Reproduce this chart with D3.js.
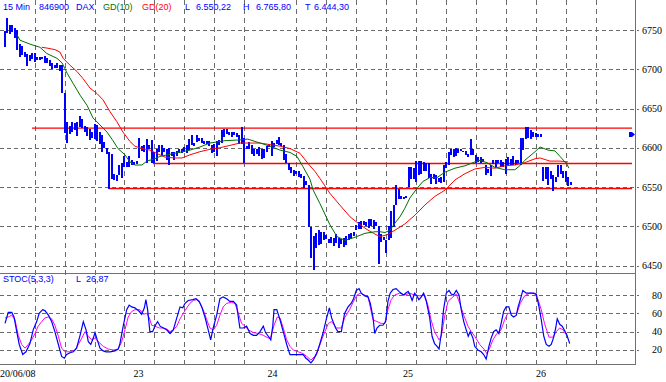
<!DOCTYPE html>
<html>
<head>
<meta charset="utf-8">
<script src="https://cdnjs.cloudflare.com/ajax/libs/d3/7.8.5/d3.min.js"></script>
<style>
  body { margin: 0; background: #fff; }
  svg { display: block; }
  .sans { font-family: "Liberation Sans", Arial, sans-serif; font-size: 9px; }
  .serif { font-family: "Liberation Serif", "Times New Roman", serif; font-size: 10px; fill: #000; }
</style>
</head>
<body>
<script>
// ---- data (15 min bars, DAX) ----
var barHigh = [6749,6765,6757,6757,6752,6750,6732,6730,6722,6720,6718,6721,6721,6716,6715,6716,6717,6714,6712,6708,
  6706,6708,6705,6705,6670,6633,6628,6633,6632,6633,6640,6636,6628,6626,6624,6620,6630,6629,6620,6616,
  6607,6600,6595,6592,6566,6565,6578,6580,6590,6582,6589,6584,6582,6583,6612,6602,6603,6611,6603,6610,
  6595,6598,6603,6604,6600,6599,6600,6595,6594,6596,6598,6599,6601,6604,6611,6616,6606,6616,6612,6612,
  6608,6609,6608,6603,6605,6608,6610,6623,6624,6624,6620,6620,6620,6619,6616,6626,6612,6602,6607,6603,
  6598,6598,6601,6598,6598,6602,6605,6608,6606,6610,6614,6606,6603,6592,6581,6575,6572,6570,6570,6566,
  6564,6558,6553,6499,6487,6491,6495,6493,6493,6489,6484,6486,6485,6490,6485,6484,6485,6487,6490,6491,
  6493,6502,6505,6507,6507,6506,6509,6509,6508,6505,6500,6490,6486,6483,6500,6520,6527,6553,6548,6538,
  6537,6539,6576,6575,6574,6583,6583,6583,6582,6581,6580,6566,6566,6565,6561,6563,6578,6582,6595,6599,
  6598,6600,6598,6598,6596,6596,6592,6611,6598,6591,6588,6588,6586,6578,6573,6578,6584,6584,6584,6584,
  6582,6586,6588,6586,6590,6584,6585,6613,6612,6627,6626,6622,6620,6619,6617,6617,6575,6575,6575,6570,
  6565,6563,6578,6578,6570,6571,6563,6556];
var barLow = [6728,6746,6745,6748,6740,6725,6716,6718,6716,6704,6710,6713,6709,6712,6712,6713,6708,6708,6704,6700,
  6702,6701,6698,6670,6619,6606,6618,6620,6623,6615,6627,6625,6620,6615,6610,6612,6611,6608,6605,6595,
  6600,6592,6548,6560,6559,6558,6565,6562,6575,6575,6576,6578,6578,6579,6587,6596,6595,6580,6598,6580,
  6580,6583,6594,6589,6594,6585,6578,6589,6584,6589,6593,6593,6595,6593,6597,6603,6602,6607,6608,6606,
  6605,6605,6602,6593,6594,6590,6603,6606,6614,6617,6616,6614,6616,6614,6605,6605,6580,6598,6598,6592,
  6590,6592,6590,6586,6587,6595,6601,6589,6601,6605,6603,6602,6585,6580,6572,6568,6564,6566,6563,6562,
  6549,6553,6499,6460,6444,6472,6476,6478,6482,6484,6479,6479,6475,6479,6472,6478,6474,6476,6482,6484,
  6487,6495,6497,6497,6501,6500,6498,6500,6496,6500,6452,6480,6482,6466,6483,6485,6499,6527,6535,6535,
  6535,6536,6550,6560,6560,6557,6565,6567,6570,6570,6562,6554,6560,6554,6557,6555,6557,6574,6578,6591,
  6588,6590,6593,6596,6594,6591,6588,6591,6591,6580,6582,6580,6582,6565,6568,6564,6579,6576,6580,6576,
  6575,6567,6577,6578,6578,6578,6580,6578,6597,6611,6612,6611,6614,6614,6614,6614,6558,6560,6553,6560,
  6545,6556,6563,6566,6562,6557,6551,6552];

// moving averages, [bar, value]
var gd10 = [[4.9,6744],[6.1,6737],[10.1,6732],[14.1,6728],[16.9,6720],[20.9,6714],[23,6708],[25,6695],[27.4,6682],
  [30.2,6667],[33,6654],[35.4,6638],[38.2,6629],[41,6620],[43.4,6609],[45.4,6599],[48.2,6591],[50.2,6582],[52.2,6578],
  [55,6578],[57,6583],[60.2,6586],[62.3,6589],[68.3,6593],[74.3,6597],[78.3,6601],[82.3,6606],[88.3,6609],[94.3,6610],
  [97.5,6611],[102.4,6606],[106.4,6602],[110.4,6597],[114.4,6594],[117.2,6589],[119.6,6576],[122.4,6560],[123.7,6546],
  [126.4,6529],[130.4,6502],[133.2,6487],[136.4,6482],[140.5,6486],[144.5,6491],[148.5,6493],[150.5,6493],[152.5,6492],
  [154.5,6495],[156.5,6504],[158.5,6512],[160.5,6523],[162.5,6536],[165.3,6548],[167.7,6557],[170.5,6562],[173.4,6562],
  [176.6,6569],[180.6,6574],[184.6,6577],[188.6,6582],[190.6,6584],[193.4,6581],[196.6,6575],[200.6,6572],[204.6,6572],
  [206.6,6577],[208.6,6584],[212.7,6595],[214.7,6601],[217.9,6597],[220.7,6596],[222.7,6589],[225.5,6579],[226.3,6574]];
var gd20 = [[14.8,6728],[16.9,6727],[20.1,6725],[22.1,6722],[23.4,6714],[26.2,6705],[29,6697],[31.4,6688],[34.2,6676],
  [37,6669],[39.4,6661],[42.2,6646],[45,6633],[47.4,6620],[50.2,6608],[52.2,6602],[55,6599],[58.2,6597],[60.2,6594],
  [64.3,6588],[68.3,6587],[71.1,6587],[74.3,6591],[78.3,6595],[82.3,6598],[86.3,6600],[90.3,6603],[94.3,6606],[98.4,6606],
  [102.4,6606],[106.4,6604],[110.4,6602],[114.4,6599],[118.4,6593],[122.4,6577],[124.4,6570],[126.4,6561],[130.4,6542],
  [134.4,6527],[138.5,6512],[142.5,6502],[145.7,6495],[148.5,6490],[150.5,6487],[153.3,6489],[156.5,6495],[160.5,6503],
  [164.5,6514],[168.5,6527],[172.5,6538],[176.6,6546],[180.6,6559],[184.6,6567],[188.6,6573],[192.6,6575],[196.6,6574],
  [200.6,6577],[204.6,6578],[208.6,6581],[212.7,6586],[214.7,6587],[218.7,6583],[222.7,6583],[225.9,6582]];

// stochastic %K / %D, [bar, value]
var stocK = [[0.1,49],[1.4,61],[2.8,61],[3.7,56],[4.8,40],[5.8,26],[7.2,15],[8.5,18],[10.1,27],[11.4,42],[12.8,51],[13.8,60],
  [15.2,64],[16.1,63],[17.5,58],[18.8,51],[20.1,40],[21.5,26],[22.8,13],[23.9,11],[24.8,15],[26.2,17],[27.5,18],[28.8,22],
  [30.2,36],[31.5,51],[32.6,42],[33.5,29],[34.5,26],[35.5,33],[36.2,39],[37.1,31],[38.2,22],[39.5,19],[40.6,18],[42.2,18],
  [44.2,19],[45.5,21],[46.2,27],[47.5,46],[48.9,64],[49.9,69],[50.9,67],[52.2,66],[54,62],[54.9,59],[56,66],[56.6,75],
  [57.3,64],[58.2,40],[59.3,40],[60.4,47],[61.3,51],[62.3,46],[63.6,44],[64.9,42],[66.3,38],[67.6,42],[69,55],[70.3,67],
  [71.4,66],[72.3,71],[73.6,74],[75.4,75],[76.7,76],[78,73],[79,67],[80.3,56],[81.6,42],[82.6,31],[83.6,44],[85,58],
  [86.3,76],[87.6,78],[89,76],[90.3,73],[91.7,73],[93,69],[94.3,44],[95.7,44],[97,46],[98.4,38],[99.7,36],[101,36],
  [102.4,40],[103.7,46],[104.6,39],[105.7,35],[106.7,31],[107.5,46],[108,64],[109.1,64],[110.4,53],[111.7,40],[113.1,26],
  [114.4,15],[115.7,15],[117.7,15],[119.1,15],[119.7,15],[120.8,11],[121.7,9],[122.8,6],[123.7,9],[125.1,16],[126.4,27],
  [127.8,40],[129.1,55],[130.2,66],[131.1,55],[132.7,44],[133.6,40],[135,40],[136.3,60],[137.7,67],[139,71],[139.9,76],
  [141,85],[142.1,87],[143,82],[144.4,79],[145.7,78],[146.6,71],[147.7,56],[148.4,38],[149.3,44],[150.4,47],[151.7,47],
  [152.8,51],[153.7,73],[154.6,82],[155.7,86],[157,87],[158.1,84],[159,82],[160,80],[160.8,82],[161.8,84],[162.6,80],
  [163.4,74],[164.4,82],[165.3,79],[166.1,75],[167.1,78],[168,82],[169.1,73],[170.4,56],[171.4,35],[172.4,27],[173.4,24],
  [174.2,21],[175.1,38],[176,64],[177.1,82],[178.2,85],[179.1,81],[180,80],[181.1,85],[182.2,80],[183.1,64],[184.1,51],
  [185.1,42],[185.9,35],[186.7,40],[187.8,33],[188.5,24],[189.8,20],[191.1,18],[192.1,15],[193.1,10],[194.2,24],[195.1,33],
  [196.1,40],[197.1,42],[198.2,38],[199.1,49],[200.1,62],[201.1,67],[202.2,67],[203.2,58],[204.1,56],[205.2,58],[205.9,67],
  [206.8,75],[207.8,85],[209.2,82],[210.5,82],[211.9,82],[213.2,81],[214.3,67],[215.2,53],[216.2,35],[217.2,26],[218.3,24],
  [219.2,26],[220.2,34],[221,44],[221.6,54],[222.6,48],[223.6,46],[224.6,41],[225.5,36],[226.6,27]];
var stocD = [[0.1,55],[1.4,56],[2.8,58],[4.1,53],[5.4,36],[6.8,26],[8.1,22],[9.4,26],[10.8,31],[12.1,38],[13.4,46],[14.8,51],
  [16.1,55],[17.5,56],[18.8,54],[20.1,47],[21.5,35],[22.8,22],[24.2,18],[26.2,18],[28.2,20],[29.5,26],[30.9,33],[32.2,40],
  [33.5,35],[34.9,31],[36.2,33],[37.5,29],[39.5,24],[41.5,21],[43.5,20],[45.5,21],[46.9,29],[48.2,42],[49.5,56],[50.9,62],
  [52.2,64],[54.2,64],[55.6,59],[56.9,60],[58,55],[58.9,47],[60.2,46],[62,44],[63.6,44],[64.9,43],[66.3,40],[67.6,42],
  [69,46],[70.3,54],[71.6,60],[73,66],[74.3,71],[75.6,74],[77,75],[78.3,71],[79.6,64],[81,53],[82.3,44],[83.6,42],[85,47],
  [86.3,58],[87.6,67],[89,71],[91,72],[92.3,71],[93.7,60],[95,49],[96.3,46],[97.7,42],[99.7,39],[101.7,38],[103.7,36],
  [105.7,33],[106.7,34],[108,47],[109.3,56],[110.4,55],[111.7,44],[113.1,31],[114.4,24],[115.7,20],[117.7,18],[119.7,16],
  [121.1,13],[122.8,9],[124.4,13],[125.7,20],[127.1,31],[128.4,40],[129.8,49],[131.1,51],[133,44],[135,44],[136.3,55],
  [138.3,64],[139.9,73],[141.3,80],[142.6,82],[144.4,80],[145.7,78],[146.6,67],[147.7,53],[149.3,51],[151,49],[152.4,49],
  [153.7,64],[155,75],[156.4,80],[158.4,82],[160.4,80],[162.4,82],[164.4,80],[166.7,79],[168.4,80],[169.7,69],[171,53],
  [172.4,40],[174.2,31],[175.1,35],[176.4,56],[177.8,73],[179.8,78],[181.1,81],[182.5,71],[184.1,58],[185.8,46],[187.1,40],
  [188.5,35],[190.5,26],[192.5,20],[193.4,16],[194.5,22],[195.8,31],[197.4,38],[199.1,42],[200.5,53],[201.8,60],[203.8,60],
  [205.4,60],[206.8,71],[208.5,79],[210.5,82],[212.5,82],[213.9,75],[215.2,64],[216.5,49],[218.3,34],[219.9,34],[221.2,40],
  [222.6,44],[223.9,42],[225.9,34]];

// support / resistance lines: [value, from bar, to bar]
var levels = [[6625, 10.9, 251.6], [6580, 59.4, 251.6], [6548, 41.8, 251.6]];
var markerValue = 6617;

var priceTicks = [6450, 6500, 6550, 6600, 6650, 6700, 6750];
var stocTicks = [20, 40, 60, 80];
var gridBars = [12, 24, 36, 48, 60, 72, 84, 96, 117, 129, 141, 153, 165, 177, 189, 201, 213, 225, 237];
var dayTicks = [[53.6, "23"], [107.4, "24"], [161.7, "25"], [215.1, "26"]];
var firstDate = "20/06/08";

var W = 666, H = 382;
var svg = d3.select("body").append("svg").attr("width", W).attr("height", H);

var x = d3.scaleLinear().domain([-1.917, 252.8]).range([0, 635]);
var yP = d3.scaleLinear().domain([6450, 6750]).range([265.5, 30]);
var yS = d3.scaleLinear().domain([0, 100]).range([368.3, 276.7]);

var gridColor = "#6a6a6a";

// horizontal grid
var g = svg.append("g").attr("shape-rendering", "crispEdges");
g.selectAll("line.hp").data(priceTicks).join("line")
  .attr("x1", 0).attr("x2", 639)
  .attr("y1", d => Math.round(yP(d)) + 0.5).attr("y2", d => Math.round(yP(d)) + 0.5)
  .attr("stroke", gridColor).attr("stroke-dasharray", "4,3");
g.selectAll("line.hs").data(stocTicks).join("line")
  .attr("x1", 0).attr("x2", 639)
  .attr("y1", d => Math.round(yS(d)) + 0.5).attr("y2", d => Math.round(yS(d)) + 0.5)
  .attr("stroke", gridColor).attr("stroke-dasharray", "4,3");
// vertical grid
g.selectAll("line.v").data(gridBars).join("line")
  .attr("x1", d => Math.round(x(d)) + 0.5).attr("x2", d => Math.round(x(d)) + 0.5)
  .attr("y1", 0).attr("y2", 369)
  .attr("stroke", gridColor).attr("stroke-dasharray", "5,4");

// panel borders
var bc = "#707070";
g.append("line").attr("x1", 635.5).attr("x2", 635.5).attr("y1", 0).attr("y2", 364).attr("stroke", bc);
g.append("line").attr("x1", 0).attr("x2", 636).attr("y1", 273.5).attr("y2", 273.5).attr("stroke", bc);
g.append("line").attr("x1", 0).attr("x2", 636).attr("y1", 364.5).attr("y2", 364.5).attr("stroke", bc);

// red levels
svg.selectAll("line.lvl").data(levels).join("line")
  .attr("x1", d => x(d[1])).attr("x2", d => x(d[2]))
  .attr("y1", d => yP(d[0])).attr("y2", d => yP(d[0]))
  .attr("stroke", "#ff0000").attr("stroke-width", 1.4);

// price bars
svg.append("g").attr("shape-rendering", "crispEdges")
  .selectAll("rect").data(d3.range(barHigh.length)).join("rect")
  .attr("x", i => x(i) - 1).attr("width", 2)
  .attr("y", i => yP(barHigh[i]))
  .attr("height", i => Math.max(1.5, yP(barLow[i]) - yP(barHigh[i])))
  .attr("fill", "#0000ff");

// moving averages
var lineP = d3.line().x(d => x(d[0])).y(d => yP(d[1]));
svg.append("path").attr("d", lineP(gd20)).attr("fill", "none").attr("stroke", "#ff0000").attr("stroke-width", 1);
svg.append("path").attr("d", lineP(gd10)).attr("fill", "none").attr("stroke", "#006f00").attr("stroke-width", 1);

// current price marker
var my = yP(markerValue);
svg.append("path")
  .attr("d", "M629," + (my - 2.5) + "h3l3,2.5l-3,2.5h-3z")
  .attr("fill", "#0000ff");

// stochastic
var lineS = d3.line().x(d => x(d[0])).y(d => yS(d[1]));
svg.append("path").attr("d", lineS(stocD)).attr("fill", "none").attr("stroke", "#ff00ff").attr("stroke-width", 1);
svg.append("path").attr("d", lineS(stocK)).attr("fill", "none").attr("stroke", "#0000ff").attr("stroke-width", 1.2);

// axis labels
svg.selectAll("text.pt").data(priceTicks).join("text").attr("class", "serif")
  .attr("x", 662).attr("y", d => yP(d) + 3.5).attr("text-anchor", "end").text(d => d);
svg.selectAll("text.st").data(stocTicks).join("text").attr("class", "serif")
  .attr("x", 662).attr("y", d => yS(d) + 3.5).attr("text-anchor", "end").text(d => d);
svg.selectAll("text.day").data(dayTicks).join("text").attr("class", "serif")
  .attr("x", d => x(d[0])).attr("y", 377).attr("text-anchor", "middle").text(d => d[1]);
svg.append("text").attr("class", "serif").attr("x", 0).attr("y", 377).text(firstDate);

// header texts
function label(tx, ty, str, col) {
  svg.append("text").attr("class", "sans").attr("x", tx).attr("y", ty).attr("fill", col).text(str);
}
var blue = "#0000ff";
label(3, 9.5, "15 Min", blue);
label(39, 9.5, "846900", blue);
label(76, 9.5, "DAX", blue);
label(103, 9.5, "GD(10)", "#007000");
label(142, 9.5, "GD(20)", "#ff0000");
label(185, 9.5, "L", blue);
label(196, 9.5, "6.550,22", blue);
label(243, 9.5, "H", blue);
label(256, 9.5, "6.765,80", blue);
label(305, 9.5, "T", blue);
label(314, 9.5, "6.444,30", blue);
label(3, 281.5, "STOC(5,3,3)", blue);
label(76, 281.5, "L", blue);
label(86, 281.5, "26,87", blue);
</script>
</body>
</html>
